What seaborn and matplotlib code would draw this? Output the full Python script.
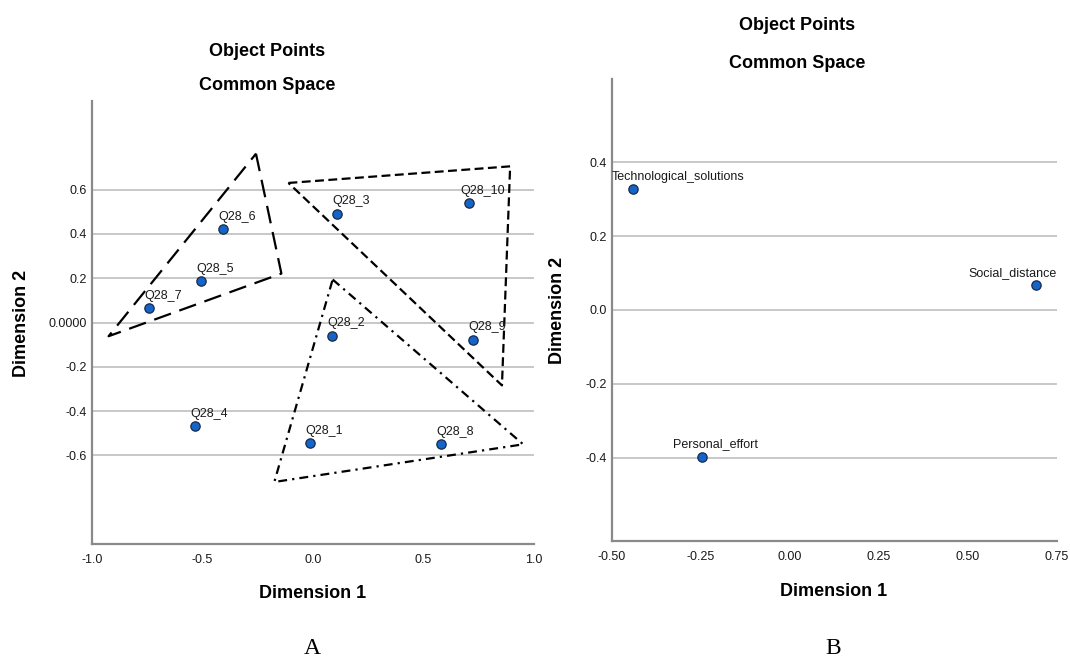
import numpy as np
import pandas as pd
import matplotlib
matplotlib.use("Agg")
import matplotlib.pyplot as plt
import seaborn as sns

# Panel A: object points (Q28 items)
items_a = ["Q28_1", "Q28_2", "Q28_3", "Q28_4", "Q28_5",
           "Q28_6", "Q28_7", "Q28_8", "Q28_9", "Q28_10"]
dim1_a = [-0.013, 0.087, 0.110, -0.533, -0.506, -0.407, -0.741, 0.579, 0.725, 0.706]
dim2_a = [-0.546, -0.060, 0.492, -0.469, 0.186, 0.420, 0.065, -0.549, -0.078, 0.538]

# hand-drawn grouping triangles (vertices)
tri_long_x = [-0.258, -0.143, -0.925]
tri_long_y = [0.762, 0.221, -0.062]
tri_short_x = [-0.111, 0.892, 0.855]
tri_short_y = [0.630, 0.705, -0.284]
tri_dashdot_x = [0.089, 0.951, -0.175]
tri_dashdot_y = [0.194, -0.550, -0.720]

# Panel B: object points (dimensions)
items_b = ["Technological_solutions", "Social_distance", "Personal_effort"]
dim1_b = [-0.441, 0.691, -0.248]
dim2_b = [0.327, 0.067, -0.397]

yticks_a = [-0.6, -0.4, -0.2, 0.0, 0.2, 0.4, 0.6]
yticklabels_a = ["-0.6", "-0.4", "-0.2", "0.0000", "0.2", "0.4", "0.6"]
xticks_a = [-1.0, -0.5, 0.0, 0.5, 1.0]
yticks_b = [-0.4, -0.2, 0.0, 0.2, 0.4]
xticks_b = [-0.50, -0.25, 0.00, 0.25, 0.50, 0.75]

sns.set_theme(style="white")
plt.rcParams["font.family"] = ["Liberation Sans", "DejaVu Sans"]
plt.rcParams["text.color"] = "black"

W, H = 1070, 658
fig = plt.figure(figsize=(W / 100, H / 100), dpi=100)

def px_axes(x0, y0, x1, y1):
    return fig.add_axes([x0 / W, 1 - y1 / H, (x1 - x0) / W, (y1 - y0) / H])

ax_a = px_axes(92, 101, 534, 544)
ax_b = px_axes(612, 79, 1057, 541)

point_color = "#1565C8"
grid_color = "#c8c8c8"
spine_color = "#8a8a8a"

def style_axes(ax, yticks):
    for y in yticks:
        ax.axhline(y, color=grid_color, lw=1.4, zorder=0)
    for side in ["top", "right"]:
        ax.spines[side].set_visible(False)
    for side in ["left", "bottom"]:
        ax.spines[side].set_color(spine_color)
        ax.spines[side].set_linewidth(1.6)
    ax.tick_params(length=0, labelsize=9, colors="#1a1a1a")
    ax.tick_params(axis="y", pad=4)
    ax.tick_params(axis="x", pad=7)
    ax.set_xlabel("")
    ax.set_ylabel("")

def label_points(ax, xs, ys, names):
    anns = []
    for x, y, n in zip(xs, ys, names):
        a = ax.annotate(n, (x, y), xytext=(10, 9), textcoords="offset points",
                        ha="center", va="center", fontsize=9, color="#1a1a1a")
        anns.append(a)
    return anns

# ---- Panel A ----
df_a = pd.DataFrame({"dim1": dim1_a, "dim2": dim2_a, "item": items_a})
sns.scatterplot(data=df_a, x="dim1", y="dim2", ax=ax_a, s=45, color=point_color,
                edgecolor="#1a2a44", linewidth=0.9, zorder=3)
ax_a.plot(tri_long_x + tri_long_x[:1], tri_long_y + tri_long_y[:1], color="black",
          lw=1.6, dashes=(8, 4), zorder=2)
ax_a.plot(tri_short_x + tri_short_x[:1], tri_short_y + tri_short_y[:1], color="black",
          lw=1.6, dashes=(4, 2), zorder=2)
ax_a.plot(tri_dashdot_x + tri_dashdot_x[:1], tri_dashdot_y + tri_dashdot_y[:1], color="black",
          lw=1.6, dashes=(4, 2.3, 1, 2.3), zorder=2)
ax_a.set_xlim(-1.0, 1.0)
ax_a.set_ylim(-1.0, 1.0)
ax_a.set_xticks(xticks_a)
ax_a.set_xticklabels([f"{v:.1f}" for v in xticks_a])
ax_a.set_yticks(yticks_a)
ax_a.set_yticklabels(yticklabels_a)
style_axes(ax_a, yticks_a)
anns = label_points(ax_a, dim1_a, dim2_a, items_a)

# ---- Panel B ----
df_b = pd.DataFrame({"dim1": dim1_b, "dim2": dim2_b, "item": items_b})
sns.scatterplot(data=df_b, x="dim1", y="dim2", ax=ax_b, s=45, color=point_color,
                edgecolor="#1a2a44", linewidth=0.9, zorder=3)
ax_b.set_xlim(-0.5, 0.75)
ax_b.set_ylim(-0.625, 0.625)
ax_b.set_xticks(xticks_b)
ax_b.set_xticklabels([f"{v:.2f}" for v in xticks_b])
ax_b.set_yticks(yticks_b)
ax_b.set_yticklabels([f"{v:.1f}" for v in yticks_b])
style_axes(ax_b, yticks_b)
anns += label_points(ax_b, dim1_b, dim2_b, items_b)

# keep point labels inside their plot area, like SPSS does
fig.canvas.draw()
renderer = fig.canvas.get_renderer()
for a in anns:
    bb = a.get_window_extent(renderer)
    abb = a.axes.get_window_extent(renderer)
    dx = 0
    if bb.x0 < abb.x0:
        dx = abb.x0 - bb.x0
    elif bb.x1 > abb.x1:
        dx = abb.x1 - bb.x1
    if dx:
        ox, oy = a.xyann
        a.xyann = (ox + dx * 72 / fig.dpi, oy)

# ---- titles and axis labels ----
def ftext(x, y, s, **kw):
    fig.text(x / W, 1 - y / H, s, ha="center", va="center", color="black", **kw)

ftext(267, 51, "Object Points", fontsize=13, fontweight="bold")
ftext(267, 86, "Common Space", fontsize=13, fontweight="bold")
ftext(797, 25, "Object Points", fontsize=13, fontweight="bold")
ftext(797, 63, "Common Space", fontsize=13, fontweight="bold")

ftext(313, 593, "Dimension 1", fontsize=13, fontweight="bold")
ftext(834, 592, "Dimension 1", fontsize=13, fontweight="bold")
ftext(22, 323, "Dimension 2", fontsize=13, fontweight="bold", rotation=90)
ftext(558, 310, "Dimension 2", fontsize=13, fontweight="bold", rotation=90)

ftext(312, 648, "A", fontsize=17, family=["Liberation Serif", "DejaVu Serif"])
ftext(833, 648, "B", fontsize=17, family=["Liberation Serif", "DejaVu Serif"])

fig.savefig("out.png", dpi=100, facecolor="white")
